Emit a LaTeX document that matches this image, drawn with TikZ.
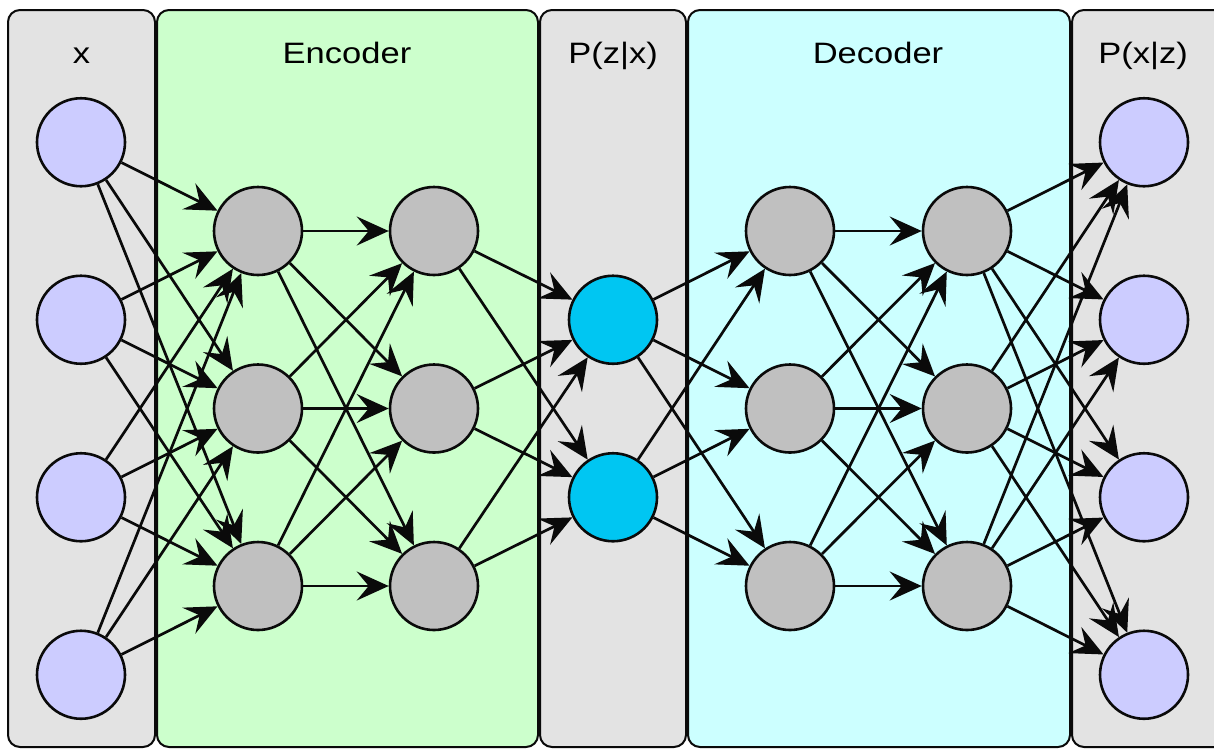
\documentclass[tikz,border=0pt]{standalone}
\usepackage{fontspec}
\setmainfont{Liberation Sans}
\newfontfamily\labfont[FakeStretch=1.17]{Liberation Sans}
\usetikzlibrary{arrows.meta}
\definecolor{panelgray}{HTML}{E3E3E3}
\definecolor{encgreen}{HTML}{CCFFCC}
\definecolor{deccyan}{HTML}{CCFFFF}
\definecolor{inpfill}{HTML}{CCCCFF}
\definecolor{hidfill}{HTML}{C0C0C0}
\definecolor{latfill}{HTML}{00C6F2}
\definecolor{edge}{HTML}{0A0A0A}
\begin{document}
\begin{tikzpicture}[x=1pt,y=-1pt,
  panel/.style={draw=edge, line width=2pt, rounded corners=12pt},
  lab/.style={font=\labfont\fontsize{29.5}{34}\selectfont, text=black, anchor=base, inner sep=0pt},
  neuron/.style={circle, draw=edge, line width=2.6pt, minimum size=88pt, inner sep=0pt},
  inp/.style={neuron, fill=inpfill},
  hid/.style={neuron, fill=hidfill},
  lat/.style={neuron, fill=latfill},
  conn/.style={draw=edge, line width=2.7pt, -{Stealth[length=32pt,width=29pt,inset=12pt]}}
]
\useasboundingbox (0,0) rectangle (1214,748);
\clip (0,0) rectangle (1214,748);
% panels
\draw[panel, fill=panelgray] (8,10) rectangle (155,747);
\draw[panel, fill=encgreen] (157,10) rectangle (538,747);
\draw[panel, fill=panelgray] (540,10) rectangle (686,747);
\draw[panel, fill=deccyan] (688,10) rectangle (1070,747);
\draw[panel, fill=panelgray] (1072,10) rectangle (1240,747);
% labels
\node[lab] (lx) at (81.5,63) {x};
\node[lab] (lenc) at (347,63) {Encoder};
\node[lab] (lpz) at (613,63) {P(z|x)};
\node[lab] (ldec) at (878,63) {Decoder};
\node[lab] (lpx) at (1143,63) {P(x|z)};
% neurons
\foreach \i/\y in {1/142.25,2/319.75,3/497.25,4/674.75}{
  \node[inp] (x\i) at (81,\y) {};
  \node[inp] (o\i) at (1144,\y) {};
}
\foreach \i/\y in {1/231,2/408.5,3/586}{
  \node[hid] (a\i) at (258,\y) {};
  \node[hid] (b\i) at (434,\y) {};
  \node[hid] (c\i) at (790,\y) {};
  \node[hid] (d\i) at (967,\y) {};
}
\foreach \i/\y in {1/319.75,2/497.25}{
  \node[lat] (z\i) at (613,\y) {};
}
% connections
\foreach \i in {1,...,4}{\foreach \j in {1,2,3}{\draw[conn] (x\i) -- (a\j);}}
\foreach \i in {1,2,3}{\foreach \j in {1,2,3}{\draw[conn] (a\i) -- (b\j);}}
\foreach \i in {1,2,3}{\foreach \j in {1,2}{\draw[conn] (b\i) -- (z\j);}}
\foreach \i in {1,2}{\foreach \j in {1,2,3}{\draw[conn] (z\i) -- (c\j);}}
\foreach \i in {1,2,3}{\foreach \j in {1,2,3}{\draw[conn] (c\i) -- (d\j);}}
\foreach \i in {1,2,3}{\foreach \j in {1,...,4}{\draw[conn] (d\i) -- (o\j);}}
\end{tikzpicture}
\end{document}
